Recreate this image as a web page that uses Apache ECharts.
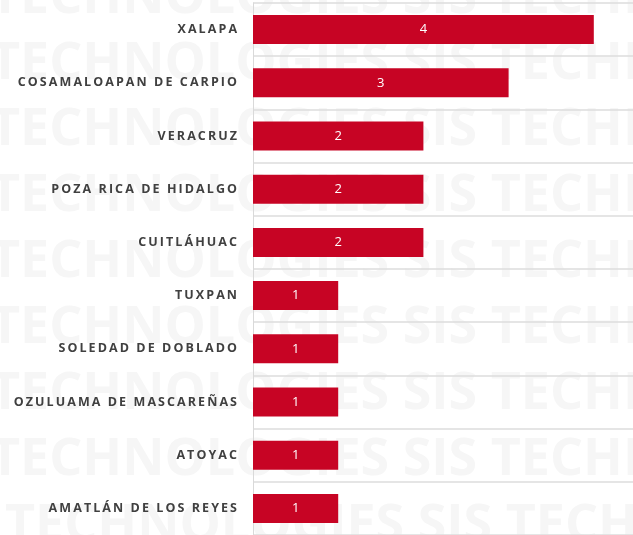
<!DOCTYPE html>
<html>
<head>
<meta charset="utf-8">
<script src="https://cdn.jsdelivr.net/npm/echarts@6/dist/echarts.min.js"></script>
<style>html,body{margin:0;padding:0;background:#fff;}#chart{width:633px;height:535px;}</style>
</head>
<body>
<div id="chart"></div>
<script>
const categories = ["XALAPA","COSAMALOAPAN DE CARPIO","VERACRUZ","POZA RICA DE HIDALGO","CUITLÁHUAC","TUXPAN","SOLEDAD DE DOBLADO","OZULUAMA DE MASCAREÑAS","ATOYAC","AMATLÁN DE LOS REYES"];
const values = [4,3,2,2,2,1,1,1,1,1];
const watermarkText = "TECHNOLOGIES SIS TECHNOLOGIES";

const chart = echarts.init(document.getElementById('chart'), null, {renderer:'canvas'});

const wm = [];
for (let k = -1; k <= 7; k++) {
  wm.push({
    type: 'text', silent: true, z: -10,
    x: k === 7 ? 5 : -10,
    y: 64.5 + 66 * k,
    style: {
      text: watermarkText,
      fill: '#f6f6f6',
      font: 'bold 52px "Open Sans"',
      verticalAlign: 'middle',
      align: 'left'
    }
  });
}

function spaced(s) { return Array.from(s).join('\u2009'); }

chart.setOption({
  animation: false,
  backgroundColor: '#ffffff',
  graphic: { elements: wm },
  grid: { left: 253, right: 0, top: 3, bottom: -1, containLabel: false },
  xAxis: {
    type: 'value', min: 0, max: 4.46, show: false
  },
  yAxis: {
    type: 'category', inverse: true, data: categories,
    axisLine: { show: true, lineStyle: { color: '#d9d9d9', width: 1 } },
    axisTick: { show: false },
    splitLine: { show: true, lineStyle: { color: '#dcdcdc', width: 1.5 } },
    axisLabel: {
      margin: 16, color: '#404040', fontWeight: 'bold', fontSize: 12.5,
      fontFamily: 'Open Sans', padding: [4, 0, 0, 0],
      formatter: spaced
    }
  },
  series: [{
    type: 'bar', data: values, barWidth: 29,
    itemStyle: { color: '#c70424' },
    label: {
      show: true, position: 'inside', color: '#ffffff', fontSize: 13,
      fontFamily: 'Open Sans'
    }
  }]
});
</script>
</body>
</html>
